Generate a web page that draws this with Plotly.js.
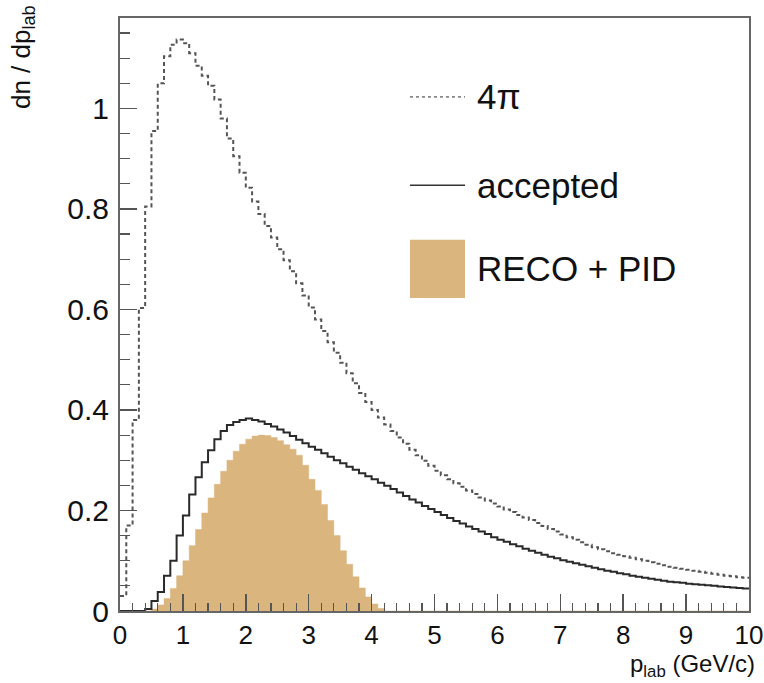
<!DOCTYPE html>
<html>
<head>
<meta charset="utf-8">
<script src="https://cdn.plot.ly/plotly-3.0.1.min.js"></script>
<style>html,body{margin:0;padding:0;background:#fff;}#chart{width:764px;height:683px;}</style>
</head>
<body>
<div id="chart"></div>
<script>
// bin width 0.1 GeV/c, 100 bins from 0 to 10
const binWidth = 0.1;
const nBins = 100;

const fourPi = [
0.03,0.17,0.38,0.603,0.805,0.955,1.05,1.104,1.127,1.137,
1.13,1.11,1.085,1.065,1.045,1.018,0.98,0.94,0.905,0.872,
0.842,0.815,0.79,0.766,0.743,0.72,0.698,0.676,0.652,0.628,
0.604,0.58,0.557,0.535,0.514,0.494,0.473,0.453,0.434,0.416,
0.4,0.385,0.371,0.358,0.345,0.333,0.321,0.31,0.299,0.289,
0.279,0.27,0.262,0.254,0.247,0.24,0.233,0.226,0.22,0.214,
0.208,0.202,0.197,0.191,0.186,0.181,0.175,0.169,0.163,0.158,
0.152,0.147,0.142,0.137,0.132,0.127,0.123,0.119,0.115,0.112,
0.109,0.106,0.103,0.1,0.097,0.094,0.091,0.088,0.086,0.084,
0.082,0.08,0.078,0.076,0.074,0.072,0.07,0.069,0.067,0.066];

const accepted = [
0,0,0,0,0.004,0.02,0.038,0.07,0.1,0.15,
0.19,0.232,0.266,0.296,0.32,0.342,0.358,0.37,0.376,0.38,
0.383,0.38,0.377,0.372,0.367,0.361,0.355,0.348,0.341,0.334,
0.327,0.321,0.314,0.307,0.3,0.294,0.287,0.281,0.274,0.268,
0.262,0.255,0.249,0.243,0.236,0.229,0.222,0.216,0.209,0.203,
0.197,0.191,0.185,0.179,0.174,0.168,0.163,0.158,0.153,0.147,
0.142,0.138,0.133,0.129,0.124,0.12,0.116,0.112,0.108,0.105,
0.101,0.098,0.095,0.092,0.089,0.086,0.083,0.08,0.078,0.075,
0.073,0.07,0.068,0.066,0.064,0.062,0.06,0.058,0.057,0.056,
0.054,0.053,0.052,0.051,0.05,0.049,0.048,0.047,0.046,0.045];

const recoPid = [
0,0,0,0,0,0.004,0.012,0.025,0.045,0.07,
0.1,0.13,0.162,0.195,0.225,0.252,0.278,0.3,0.318,0.332,
0.342,0.348,0.35,0.349,0.345,0.339,0.331,0.322,0.31,0.29,
0.262,0.24,0.212,0.18,0.15,0.12,0.093,0.068,0.046,0.028,
0.014,0.005,0,0,0,0,0,0,0,0,
0,0,0,0,0,0,0,0,0,0,
0,0,0,0,0,0,0,0,0,0,
0,0,0,0,0,0,0,0,0,0,
0,0,0,0,0,0,0,0,0,0,
0,0,0,0,0,0,0,0,0,0];

const xTickVals = [0,1,2,3,4,5,6,7,8,9,10];
const yTickVals = [0,0.2,0.4,0.6,0.8,1];
const legendLabels = ['4\u03c0', 'accepted', 'RECO + PID'];

// bin geometry
const edges = Array.from({length: nBins + 1}, (_, i) => +(i * binWidth).toFixed(2));
function stepY(v) { return v.concat([v[v.length - 1]]); }

const fillColor = '#dbb57e';

const traces = [
  {
    type: 'scatter', mode: 'lines', x: edges, y: stepY(recoPid),
    line: {shape: 'hv', color: fillColor, width: 0.5},
    fill: 'tozeroy', fillcolor: fillColor,
    showlegend: false, hoverinfo: 'skip'
  },
  {
    type: 'scatter', mode: 'lines', x: edges, y: stepY(accepted),
    line: {shape: 'hv', color: '#2a2a2a', width: 2},
    showlegend: false, hoverinfo: 'skip'
  },
  {
    type: 'scatter', mode: 'lines', x: edges, y: stepY(fourPi),
    line: {shape: 'hv', color: '#555555', width: 2, dash: '4px,3px'},
    showlegend: false, hoverinfo: 'skip'
  }
];

const fontFam = '"Liberation Sans", Arial, Helvetica, sans-serif';
const legFont = {family: fontFam, size: 35, color: '#111'};

const layout = {
  width: 764, height: 683,
  margin: {l: 120, r: 15, t: 18, b: 72, pad: 0},
  paper_bgcolor: '#fff', plot_bgcolor: '#fff',
  showlegend: false,
  font: {family: fontFam, color: '#111'},
  xaxis: {
    range: [0, 10], tickvals: xTickVals, ticktext: xTickVals.map(String),
    ticks: 'inside', ticklen: 17, tickwidth: 1.5, tickcolor: '#555',
    minor: {dtick: 0.2, ticks: 'inside', ticklen: 8, tickwidth: 1.2, tickcolor: '#555'},
    showline: true, linecolor: '#666', linewidth: 2, mirror: true,
    showgrid: false, zeroline: false,
    tickfont: {family: fontFam, size: 26, color: '#111'},
    ticklabelstandoff: 0
  },
  yaxis: {
    range: [0, 1.18], tickvals: yTickVals, ticktext: yTickVals.map(String),
    ticks: 'inside', ticklen: 17, tickwidth: 1.5, tickcolor: '#555',
    minor: {dtick: 0.05, ticks: 'inside', ticklen: 10, tickwidth: 1.2, tickcolor: '#555'},
    showline: true, linecolor: '#666', linewidth: 2, mirror: true,
    showgrid: false, zeroline: false,
    tickfont: {family: fontFam, size: 30, color: '#111'},
    ticklabelstandoff: 3
  },
  shapes: [
    {type: 'line', xref: 'paper', yref: 'paper', x0: 0.461, x1: 0.5485, y0: 0.867, y1: 0.867,
     line: {color: '#888', width: 1.8, dash: '3px,3px'}},
    {type: 'line', xref: 'paper', yref: 'paper', x0: 0.461, x1: 0.5485, y0: 0.718, y1: 0.718,
     line: {color: '#333', width: 1.5}},
    {type: 'rect', xref: 'paper', yref: 'paper', x0: 0.461, x1: 0.5485, y0: 0.528, y1: 0.626,
     fillcolor: fillColor, line: {width: 0}}
  ],
  annotations: [
    {xref: 'paper', yref: 'paper', x: 0.5644, y: 0.867, xanchor: 'left', yanchor: 'middle',
     text: legendLabels[0], showarrow: false, font: legFont},
    {xref: 'paper', yref: 'paper', x: 0.5644, y: 0.718, xanchor: 'left', yanchor: 'middle',
     text: legendLabels[1], showarrow: false, font: legFont},
    {xref: 'paper', yref: 'paper', x: 0.5644, y: 0.577, xanchor: 'left', yanchor: 'middle',
     text: legendLabels[2], showarrow: false, font: legFont},
    {xref: 'paper', yref: 'paper', x: -0.156, y: 1.025, xanchor: 'center', yanchor: 'top',
     textangle: -90, text: 'dn / dp<sub>lab</sub>', showarrow: false,
     font: {family: fontFam, size: 26, color: '#111'}},
    {xref: 'paper', yref: 'paper', x: 1.012, y: -0.0915, xanchor: 'right', yanchor: 'middle',
     text: 'p<sub>lab</sub> (GeV/c)', showarrow: false,
     font: {family: fontFam, size: 24, color: '#111'}}
  ]
};

Plotly.newPlot('chart', traces, layout, {displayModeBar: false, staticPlot: true});
</script>
</body>
</html>
